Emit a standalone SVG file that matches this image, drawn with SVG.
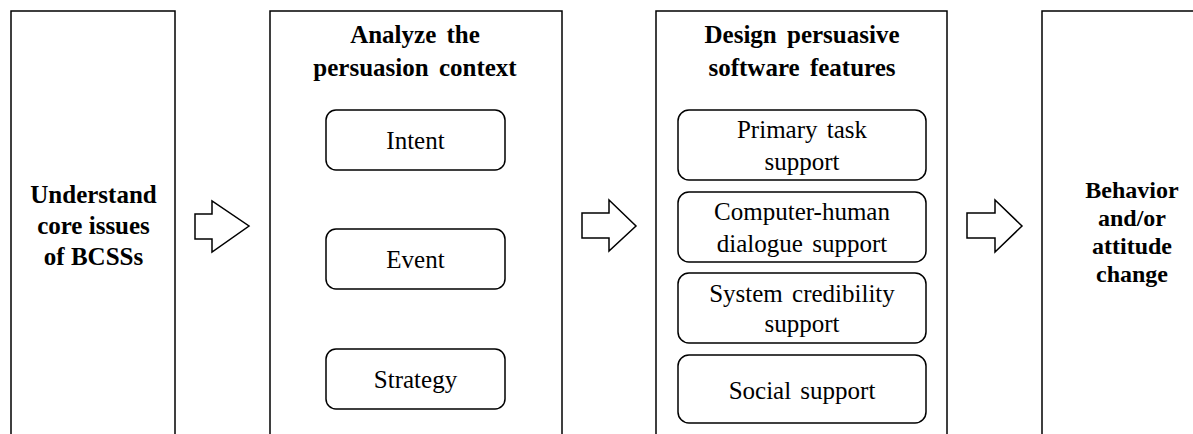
<svg xmlns="http://www.w3.org/2000/svg" width="1193" height="434" viewBox="0 0 1193 434" font-family="'Liberation Serif', 'Times New Roman', serif">
<style>
.outer{fill:#fff;stroke:#000;stroke-width:1.5}
.inner{fill:#fff;stroke:#000;stroke-width:1.5}
.arrow{fill:#fff;stroke:#000;stroke-width:1.5;stroke-linejoin:miter}
text{font-size:25px;fill:#000;text-anchor:middle}
.b{font-weight:bold}
.r{font-size:24px}
</style>
<rect x="0" y="0" width="1193" height="434" fill="#fff"/>
<g id="box1">
<rect class="outer" x="11" y="11" width="164" height="440"/>
<text class="b" x="93.5" y="203">Understand</text>
<text class="b" x="93.5" y="234">core issues</text>
<text class="b" x="93.5" y="265">of BCSSs</text>
</g>
<g id="box2">
<rect class="outer" x="270" y="11" width="292" height="440"/>
<text class="b" x="415" y="43" word-spacing="4">Analyze the</text>
<text class="b" x="415" y="76" word-spacing="4">persuasion context</text>
</g>
<g id="intent"><rect class="inner" x="326" y="110" width="179" height="60" rx="10"/><text x="415.5" y="149">Intent</text></g>
<g id="event"><rect class="inner" x="326" y="229" width="179" height="60" rx="10"/><text x="415.5" y="268">Event</text></g>
<g id="strategy"><rect class="inner" x="326" y="349" width="179" height="60" rx="10"/><text x="415.5" y="388">Strategy</text></g>
<g id="box3">
<rect class="outer" x="656" y="11" width="291" height="440"/>
<text class="b" x="802" y="43" word-spacing="4">Design persuasive</text>
<text class="b" x="802" y="76" word-spacing="4">software features</text>
</g>
<g id="primary"><rect class="inner" x="678" y="110" width="248" height="70" rx="11"/><text x="802" y="138" word-spacing="3">Primary task</text><text x="802" y="170">support</text></g>
<g id="dialogue"><rect class="inner" x="678" y="192" width="248" height="70" rx="11"/><text x="802" y="220">Computer-human</text><text x="802" y="252" word-spacing="3">dialogue support</text></g>
<g id="credibility"><rect class="inner" x="678" y="273" width="248" height="70" rx="11"/><text x="802" y="302" word-spacing="3">System credibility</text><text x="802" y="332">support</text></g>
<g id="social"><rect class="inner" x="678" y="355" width="248" height="68" rx="11"/><text x="802" y="399" word-spacing="3">Social support</text></g>
<g id="box4">
<rect class="outer" x="1042" y="11" width="170" height="440"/>
<text class="b r" x="1132" y="198">Behavior</text>
<text class="b r" x="1132" y="226">and/or</text>
<text class="b r" x="1132" y="254">attitude</text>
<text class="b r" x="1132" y="282">change</text>
</g>
<g id="connectors">
<path class="arrow" d="M195,214 H212 V201 L249,226 L212,252 V239 H195 Z"/>
<path class="arrow" d="M582,213 H609 V200 L636,226 L609,251 V238 H582 Z"/>
<path class="arrow" d="M967,213 H995 V200 L1022,226 L995,252 V238 H967 Z"/>
</g>
</svg>
